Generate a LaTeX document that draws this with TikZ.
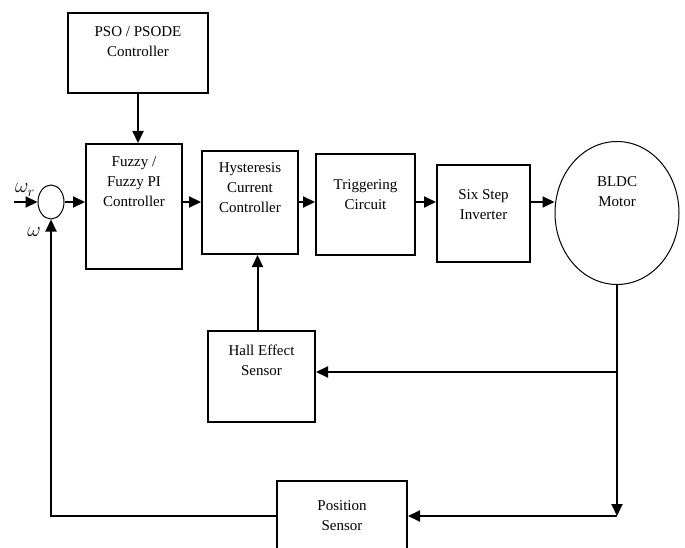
\documentclass[tikz,border=0pt]{standalone}
\usepackage{fontspec}
\setmainfont{Liberation Serif}
\usetikzlibrary{arrows.meta,positioning,shapes.geometric}

\begin{document}
\begin{tikzpicture}[x=1pt,y=1pt,>={Triangle[length=12pt,width=11pt]},
  block/.style={rectangle,draw,line width=2pt},
  txt/.style={align=center,inner sep=0pt,font=\fontsize{15}{20}\selectfont},
  sig/.style={->,line width=2pt}]
  \useasboundingbox (0,0) rectangle (685,-548);

  % blocks
  \node[block,minimum width=140,minimum height=80] (pso) at (138,-53) {};
  \node[block,minimum width=96,minimum height=125] (fuzzy) at (134,-206.5) {};
  \node[block,minimum width=96,minimum height=103] (hyst) at (250,-202.5) {};
  \node[block,minimum width=99,minimum height=101] (trig) at (365.5,-204.5) {};
  \node[block,minimum width=93,minimum height=97] (inv) at (483.5,-213.5) {};
  \node[ellipse,draw,line width=1pt,minimum width=124,minimum height=143] (motor) at (617,-213) {};
  \node[block,minimum width=107,minimum height=91] (hall) at (261.5,-376.5) {};
  \node[block,txt,inner sep=2pt,minimum width=130,minimum height=70] (pos) at (342,-516) {Position\\Sensor};
  \node[ellipse,draw,line width=1pt,inner sep=0pt,minimum width=26,minimum height=34] (sum) at (51,-202) {};

  % texts
  \node[txt,below=14.5pt of pso.north] (psot) {PSO / PSODE\\Controller};
  \node[txt,below=13.5pt of fuzzy.north] (fuzzyt) {Fuzzy /\\Fuzzy PI\\Controller};
  \node[txt,below=12.5pt of hyst.north] (hystt) {Hysteresis\\Current\\Controller};
  \node[txt,below=26pt of trig.north] (trigt) {Triggering\\Circuit};
  \node[txt,below=25pt of inv.north] (invt) {Six Step\\Inverter};
  \node[txt] (motort) at (617,-192) {BLDC\\Motor};
  \node[txt,below=14.5pt of hall.north] (hallt) {Hall Effect\\Sensor};
  \node[font=\fontsize{21}{21}\selectfont,inner sep=0pt] (wref) at (25,-190) {$\omega_r$};
  \node[font=\fontsize{21}{21}\selectfont,inner sep=0pt] (wfb) at (34,-232) {$\omega$};

  \coordinate (in) at (14,-202);
  \coordinate (br1) at (617,-372);
  \coordinate (br2) at (617,-516);

  % forward path
  \draw[sig] (in) -- (sum.west);
  \draw[sig] (sum.east) -- (sum.east -| fuzzy.west);
  \draw[sig] (sum.east -| fuzzy.east) -- (sum.east -| hyst.west);
  \draw[sig] (sum.east -| hyst.east) -- (sum.east -| trig.west);
  \draw[sig] (sum.east -| trig.east) -- (sum.east -| inv.west);
  \draw[sig] (sum.east -| inv.east) -- (sum.east -| motor.west);
  \draw[sig] (pso.south) -- (pso.south |- fuzzy.north);
  \draw[sig] ([xshift=-4pt]hall.north) -- ([xshift=-4pt]hall.north |- hyst.south);

  % feedback
  \draw[sig] (motor.south) -- (br2);
  \draw[sig] (br1) -- (br1 -| hall.east);
  \draw[sig] (br2) -- (pos.east);
  \draw[sig] (pos.west) -| (sum.south);
\end{tikzpicture}
\end{document}
